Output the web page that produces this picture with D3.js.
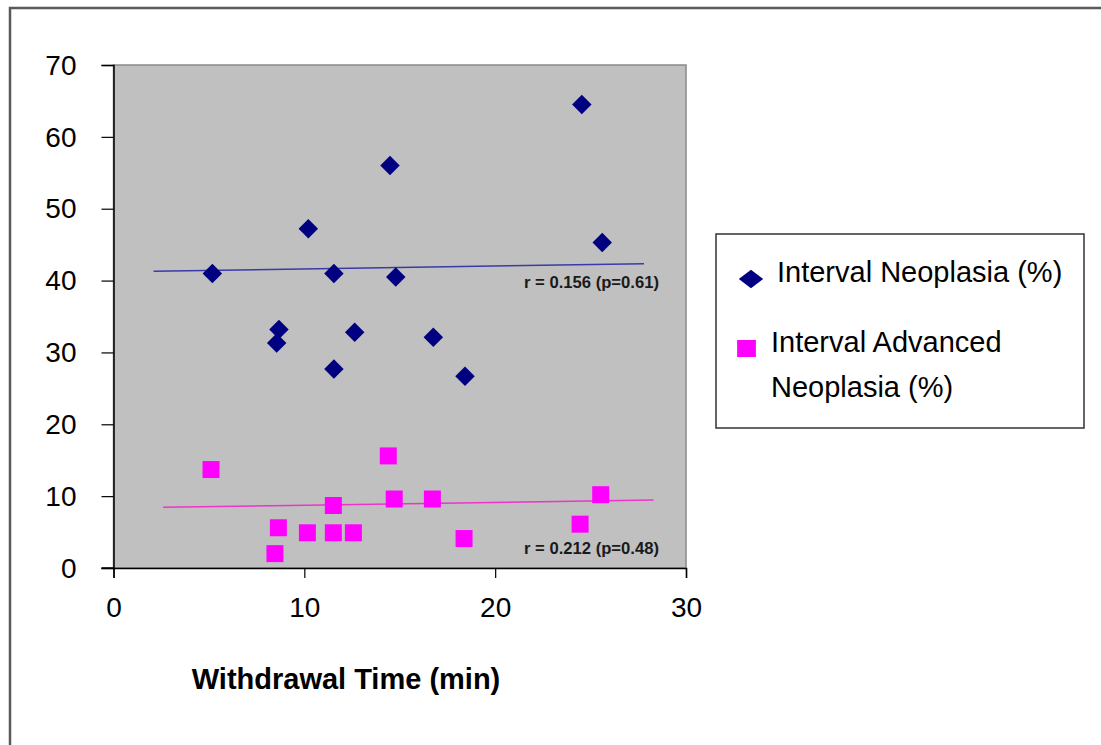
<!DOCTYPE html>
<html>
<head>
<meta charset="utf-8">
<script src="https://cdn.jsdelivr.net/npm/d3@7"></script>
<style>
  html, body { margin: 0; padding: 0; background: #ffffff; }
  svg { display: block; }
  text { font-family: "Liberation Sans", Arial, sans-serif; }
</style>
</head>
<body>
<svg id="chart" width="1101" height="745"></svg>
<script>
// ---- data ----
const neoX   = [5.18, 8.67, 8.55, 10.21, 11.55, 11.55, 12.64, 14.49, 14.79, 16.76, 18.42, 24.54, 25.61];
const neoY   = [41.0, 33.2, 31.3, 47.2, 41.0, 27.7, 32.8, 56.0, 40.5, 32.1, 26.7, 64.5, 45.3];
const advX   = [5.11, 14.40, 14.71, 16.71, 11.52, 8.64, 10.16, 11.52, 12.57, 8.46, 18.37, 24.45, 25.53];
const advY   = [13.7, 15.6, 9.6, 9.6, 8.7, 5.6, 4.9, 4.9, 4.9, 2.0, 4.1, 6.1, 10.2];
const neoTrendX = [2.1, 27.8];
const neoTrendY = [41.3, 42.35];
const advTrendX = [2.6, 28.3];
const advTrendY = [8.45, 9.46];
const xTicks = [0, 10, 20, 30];
const yTicks = [0, 10, 20, 30, 40, 50, 60, 70];
const seriesNames = ["Interval Neoplasia (%)", ["Interval Advanced", "Neoplasia (%)"]];
const annotations = ["r = 0.156 (p=0.61)", "r = 0.212 (p=0.48)"];
const xTitle = "Withdrawal Time (min)";

// ---- layout ----
const svg = d3.select("#chart");
const L = 113.5, R = 686, T = 65, B = 568;
const x = d3.scaleLinear().domain([0, 30]).range([L, R]);
const y = d3.scaleLinear().domain([0, 70]).range([B, T]);

// outer frame
svg.append("rect").attr("x", 10).attr("y", 8).attr("width", 1100).attr("height", 760)
  .attr("fill", "none").attr("stroke", "#5a5a5a").attr("stroke-width", 2.5);

// plot area
svg.append("rect").attr("x", L).attr("y", T).attr("width", R - L).attr("height", B - T)
  .attr("fill", "#c0c0c0").attr("stroke", "#8a8a8a").attr("stroke-width", 1.5);

// axes
const yAxis = d3.axisLeft(y).tickValues(yTicks).tickSize(12).tickPadding(25).tickFormat(d3.format("d"));
const gy = svg.append("g").attr("transform", `translate(${L},0)`).call(yAxis);
gy.select(".domain").attr("stroke", "#000").attr("stroke-width", 1.5);
gy.selectAll(".tick line").attr("stroke", "#000").attr("stroke-width", 1.2);
gy.selectAll(".tick text").attr("font-size", 28).attr("fill", "#000").attr("dy", "0.33em")
  .attr("font-family", "'Liberation Sans', Arial, sans-serif");

const xAxis = d3.axisBottom(x).tickValues(xTicks).tickSize(10).tickPadding(11).tickFormat(d3.format("d"));
const gx = svg.append("g").attr("transform", `translate(0,${B})`).call(xAxis);
gx.select(".domain").attr("stroke", "#000").attr("stroke-width", 1.5);
gx.selectAll(".tick line").attr("stroke", "#000").attr("stroke-width", 1.2);
gx.selectAll(".tick text").attr("font-size", 28).attr("fill", "#000").attr("dy", "1.0em")
  .attr("font-family", "'Liberation Sans', Arial, sans-serif");
// left tick extension of x axis at origin
svg.append("line").attr("x1", L - 12).attr("x2", L).attr("y1", B).attr("y2", B)
  .attr("stroke", "#000").attr("stroke-width", 1.5);

// trend lines
const line = d3.line().x(d => x(d[0])).y(d => y(d[1]));
svg.append("path").datum(d3.zip(neoTrendX, neoTrendY)).attr("d", line)
  .attr("fill", "none").attr("stroke", "#3a3aa8").attr("stroke-width", 1.5);
svg.append("path").datum(d3.zip(advTrendX, advTrendY)).attr("d", line)
  .attr("fill", "none").attr("stroke", "#ee33cc").attr("stroke-width", 1.5);

// markers
const diamond = d3.symbol().type(d3.symbolSquare).size(190)();
const square = d3.symbol().type(d3.symbolSquare).size(289)();
svg.append("g").selectAll("path").data(d3.zip(neoX, neoY)).join("path")
  .attr("d", diamond).attr("fill", "#000080")
  .attr("transform", d => `translate(${x(d[0])},${y(d[1])}) rotate(45)`);
svg.append("g").selectAll("path").data(d3.zip(advX, advY)).join("path")
  .attr("d", square).attr("fill", "#ff00ff")
  .attr("transform", d => `translate(${x(d[0])},${y(d[1])})`);

// annotations
const annFont = "'Liberation Sans Narrow', 'Arial Narrow', 'Liberation Sans', Arial, sans-serif";
svg.append("text").attr("x", 524).attr("y", 288).text(annotations[0])
  .attr("font-family", annFont).attr("font-weight", "bold").attr("font-size", 16.5).attr("fill", "#1a1a1a")
  .attr("textLength", 135).attr("lengthAdjust", "spacingAndGlyphs");
svg.append("text").attr("x", 524).attr("y", 554).text(annotations[1])
  .attr("font-family", annFont).attr("font-weight", "bold").attr("font-size", 16.5).attr("fill", "#1a1a1a")
  .attr("textLength", 135).attr("lengthAdjust", "spacingAndGlyphs");

// x title
svg.append("text").attr("x", 346).attr("y", 689).attr("text-anchor", "middle")
  .attr("font-size", 29).attr("font-weight", "bold").attr("fill", "#000").text(xTitle);

// legend
const lg = svg.append("g");
lg.append("rect").attr("x", 716).attr("y", 234).attr("width", 368).attr("height", 194)
  .attr("fill", "#fff").attr("stroke", "#333").attr("stroke-width", 1.5);
lg.append("path").attr("d", diamond).attr("fill", "#000080")
  .attr("transform", "translate(751,279) scale(1.25,0.95) rotate(45)");
lg.append("text").attr("x", 777).attr("y", 282).attr("font-size", 29).attr("fill", "#000").text(seriesNames[0]);
lg.append("path").attr("d", d3.symbol().type(d3.symbolSquare).size(320)()).attr("fill", "#ff00ff")
  .attr("transform", "translate(746.5,348.5) scale(1.05,0.95)");
const t2 = lg.append("text").attr("x", 771).attr("y", 352).attr("font-size", 29).attr("fill", "#000");
t2.append("tspan").attr("x", 771).text(seriesNames[1][0]);
t2.append("tspan").attr("x", 771).attr("dy", 45).text(seriesNames[1][1]);
</script>
</body>
</html>
